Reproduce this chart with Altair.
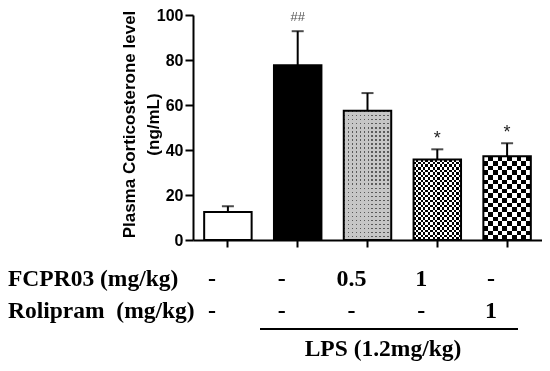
import altair as alt
import pandas as pd

groups = ["Control", "LPS", "LPS+FCPR03 0.5", "LPS+FCPR03 1", "LPS+Rolipram 1"]
means = [12.5, 77.7, 57.4, 35.8, 37.2]
upper = [15.0, 92.8, 65.3, 40.3, 43.0]
marks_txt = ["", "##", "", "*", "*"]
fcpr = ["-", "-", "0.5", "1", "-"]
roli = ["-", "-", "-", "-", "1"]
row_labels = ["FCPR03 (mg/kg)", "Rolipram\u00a0 (mg/kg)"]
lps_label = "LPS (1.2mg/kg)"
y_ticks = [0, 20, 40, 60, 80, 100]

df = pd.DataFrame({"g": groups, "m": means, "u": upper, "ann": marks_txt,
                   "fc": fcpr, "ro": roli})

W, H = 349, 225
SERIF = "Liberation Serif"
SANS = "Liberation Sans"

x = alt.X("g:N", sort=groups,
          scale=alt.Scale(domain=groups, paddingInner=0.32, paddingOuter=0.16),
          axis=alt.Axis(labels=False, title=None, tickSize=7, tickWidth=2,
                        domainWidth=2, domainColor="black", tickColor="black"))
y = alt.Y("m:Q", scale=alt.Scale(domain=[0, 100], nice=False, zero=True),
          axis=alt.Axis(values=y_ticks, grid=False, domainWidth=2, tickWidth=2,
                        tickSize=8, domainColor="black", tickColor="black",
                        labelFont=SANS, labelFontSize=16, labelFontWeight="bold",
                        labelColor="black", labelPadding=2,
                        title=["Plasma Corticosterone level", "(ng/mL)"],
                        titleFont=SANS, titleFontSize=17, titleFontWeight="bold",
                        titleColor="black", titleAngle=270, titleX=-64, titleY=109,
                        titleAlign="center", titleBaseline="middle",
                        titleLineHeight=24))

base = alt.Chart(df)


def stripes(n, c1, c2, frac, vertical):
    stops = []
    for i in range(n):
        a = i / n
        b = a + frac / n
        e = (i + 1) / n
        stops += [{"offset": a, "color": c1}, {"offset": b, "color": c1},
                  {"offset": b, "color": c2}, {"offset": e, "color": c2}]
    g = {"gradient": "linear", "stops": stops, "x1": 0, "y1": 0,
         "x2": 1 if vertical else 0, "y2": 0 if vertical else 1}
    return g


plain = base.mark_bar(stroke=None).encode(
    x=x, y=y,
    fill=alt.condition(alt.datum.g == "LPS", alt.value("black"), alt.value("white")))

# bar 3: dotted
p3a = base.transform_filter(alt.datum.g == groups[2]).mark_bar(
    fill=stripes(12, "#5a5a5a", "#c6c6c6", 0.38, True)).encode(x=x, y=y)
p3b = base.transform_filter(alt.datum.g == groups[2]).mark_bar(
    fill=stripes(32, "#5a5a5a", "#c6c6c6", 0.38, False), blend="lighten").encode(x=x, y=y)
# bar 4: fine checkerboard
p4a = base.transform_filter(alt.datum.g == groups[3]).mark_bar(
    fill=stripes(10, "black", "white", 0.5, True)).encode(x=x, y=y)
p4b = base.transform_filter(alt.datum.g == groups[3]).mark_bar(
    fill=stripes(16, "white", "black", 0.5, False), blend="difference").encode(x=x, y=y)
# bar 5: coarse checkerboard
p5a = base.transform_filter(alt.datum.g == groups[4]).mark_bar(
    fill=stripes(5, "black", "white", 0.5, True)).encode(x=x, y=y)
p5b = base.transform_filter(alt.datum.g == groups[4]).mark_bar(
    fill=stripes(9, "white", "black", 0.5, False), blend="difference").encode(x=x, y=y)

outline = base.mark_bar(fillOpacity=0, stroke="black", strokeWidth=2).encode(x=x, y=y)

err = base.mark_rule(color="black", strokeWidth=2).encode(x=x, y=y, y2="u:Q")
cap = base.mark_tick(color="black", thickness=2, size=12).encode(x=x, y=alt.Y("u:Q"))

ann1 = base.transform_filter(alt.datum.ann == "##").mark_text(
    font=SANS, fontSize=13, color="#555555", baseline="alphabetic", dy=-10
).encode(x=x, y=alt.Y("u:Q"), text="ann:N")
ann2 = base.transform_filter(alt.datum.ann == "*").mark_text(
    font=SANS, fontSize=18, color="#222222", baseline="alphabetic", dy=-5
).encode(x=x, y=alt.Y("u:Q"), text="ann:N")

tstyle = dict(font=SERIF, fontSize=24, fontWeight="bold", color="black",
              baseline="alphabetic", dx=-16)
row1 = base.mark_text(**tstyle).encode(x=x, y=alt.value(271), text="fc:N")
row2 = base.mark_text(**tstyle).encode(x=x, y=alt.value(303), text="ro:N")

lab_df = pd.DataFrame({"t": row_labels, "row": [0, 1]})
lab1 = alt.Chart(lab_df).transform_filter(alt.datum.row == 0).mark_text(
    font=SERIF, fontSize=23.5, fontWeight="bold", color="black", align="left",
    baseline="alphabetic").encode(x=alt.value(-185), y=alt.value(271), text="t:N")
lab2 = alt.Chart(lab_df).transform_filter(alt.datum.row == 1).mark_text(
    font=SERIF, fontSize=23.5, fontWeight="bold", color="black", align="left",
    baseline="alphabetic").encode(x=alt.value(-185), y=alt.value(303), text="t:N")

line = alt.Chart(pd.DataFrame({"a": [0]})).mark_rule(color="black", strokeWidth=2).encode(
    x=alt.value(67), x2=alt.value(325), y=alt.value(314))
lps = alt.Chart(pd.DataFrame({"t": [lps_label]})).mark_text(
    font=SERIF, fontSize=23.5, fontWeight="bold", color="black", align="center",
    baseline="alphabetic").encode(x=alt.value(190), y=alt.value(341), text="t:N")

chart = alt.layer(plain, p3a, p3b, p4a, p4b, p5a, p5b, outline, err, cap,
                  ann1, ann2, row1, row2, lab1, lab2, line, lps).properties(
    width=W, height=H,
    autosize=alt.AutoSizeParams(type="none"),
    padding={"left": 185, "top": 7, "right": 0, "bottom": 123},
    background="white",
).configure_view(stroke=None)

chart.save("out.html", embed_options={"renderer": "svg", "actions": False})
